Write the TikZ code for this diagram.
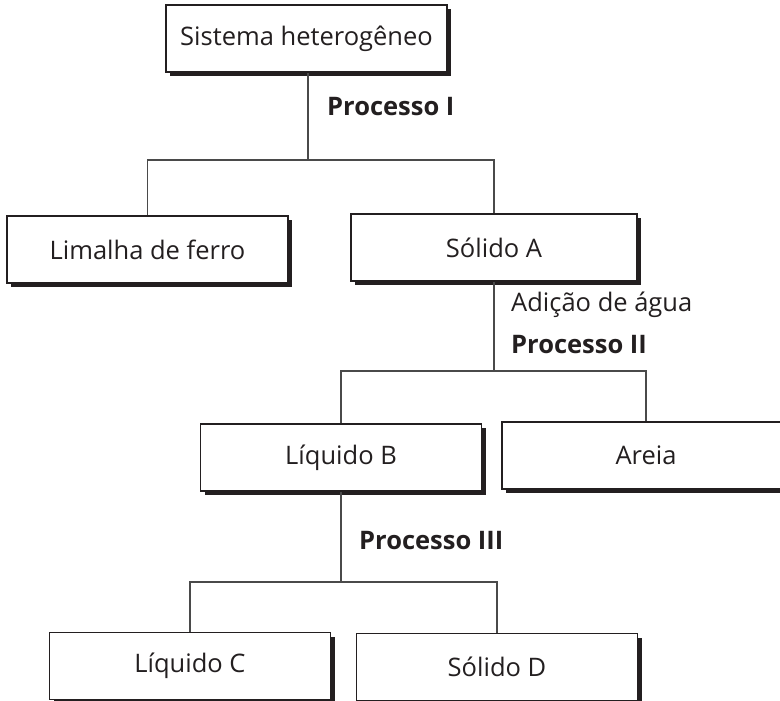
\documentclass[tikz,border=0pt]{standalone}
\usepackage{fontspec}
\setmainfont{Open Sans}
\usetikzlibrary{shadows}
\definecolor{ink}{HTML}{231F20}
\definecolor{wire}{HTML}{4A4A4A}
\tikzset{
  box/.style={draw=ink, line width=1.3pt, fill=white, minimum height=67pt, inner sep=0pt,
    font=\fontsize{25.5}{30}\selectfont, text=ink,
    drop shadow={shadow xshift=4pt, shadow yshift=-4pt, fill=ink, opacity=1}},
  link/.style={draw=wire, line width=1.3pt},
  lbl/.style={anchor=west, inner sep=0pt, font=\fontsize{25.5}{30}\selectfont, text=ink},
  blbl/.style={lbl, font=\fontsize{25.5}{30}\selectfont\bfseries}
}
\begin{document}
\begin{tikzpicture}[x=1pt,y=-1pt]
\clip (0,0) rectangle (780,701);
\fill[white] (0,0) rectangle (780,701);
\node[box, minimum width=281pt] (sis) at (306.5,38.5) {Sistema heterogêneo};
\node[box, minimum width=281pt] (lim) at (147.5,249.5) {Limalha de ferro};
\node[box, minimum width=286pt] (solA) at (494,247.5) {Sólido A};
\node[box, minimum width=281pt] (liqB) at (341,457.5) {Líquido B};
\node[box, minimum width=288pt] (areia) at (646,455.5) {Areia};
\node[box, minimum width=281pt] (liqC) at (190,666) {Líquido C};
\node[box, minimum width=281pt] (solD) at (497,667) {Sólido D};
\coordinate (j1) at (308,160);
\coordinate (j2) at (494,371);
\coordinate (j3) at (341,582);
\draw[link] (sis.south -| j1) -- (j1);
\draw[link] (lim.north) -- (lim.north |- j1) -- (solA.north |- j1) -- (solA.north);
\draw[link] (solA.south) -- (j2);
\draw[link] (liqB.north) -- (liqB.north |- j2) -- (areia.north |- j2) -- (areia.north);
\draw[link] (liqB.south) -- (j3);
\draw[link] (liqC.north) -- (liqC.north |- j3) -- (solD.north |- j3) -- (solD.north);
\node[blbl] (p1) at (327,107) {Processo I};
\node[lbl] (ad) at (511,305) {Adição de água};
\node[blbl] (p2) at (511,345) {Processo II};
\node[blbl] (p3) at (359,541) {Processo III};
\end{tikzpicture}
\end{document}
